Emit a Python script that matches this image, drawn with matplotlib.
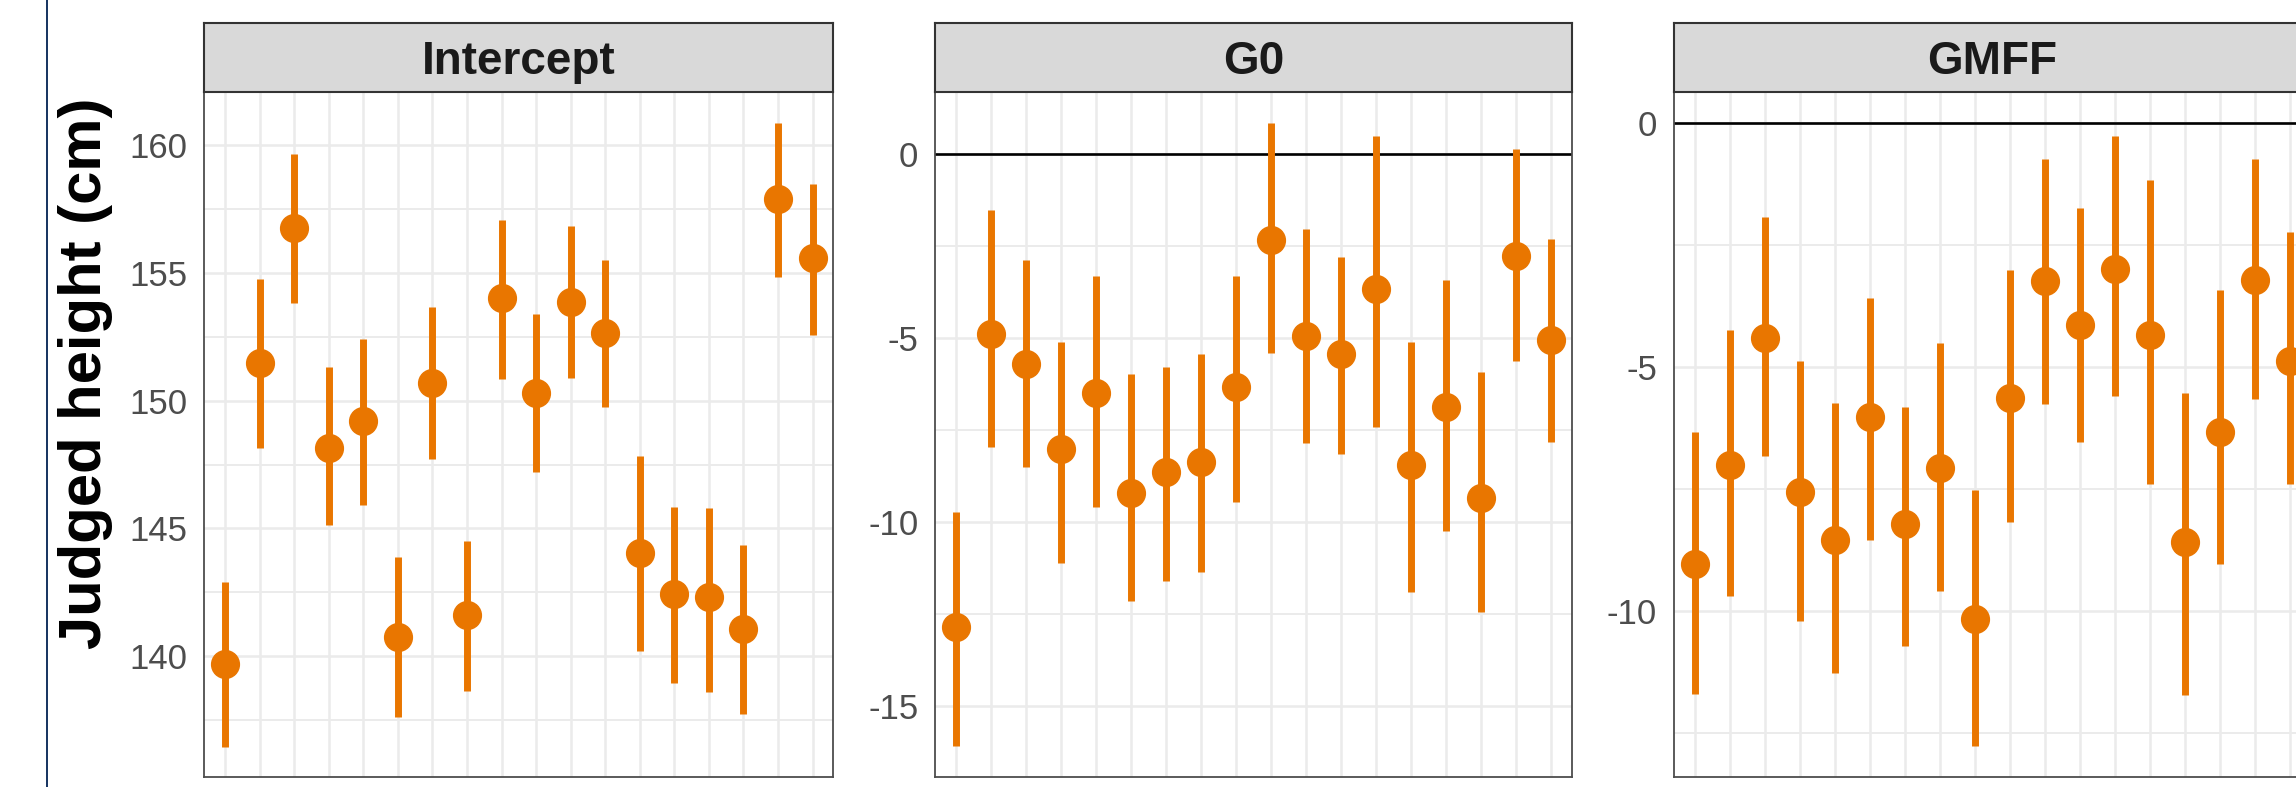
"""Per-item random effects with 95% intervals, faceted by term."""

import numpy as np
import matplotlib.pyplot as plt
from matplotlib.ticker import FixedLocator

plt.rcParams["font.family"] = ["Liberation Sans", "DejaVu Sans"]

# Facet titles
terms = ["Intercept", "G0", "GMFF"]
items = np.arange(1, 19)

# Estimates and interval bounds
intercept_est = [139.70, 151.48, 156.75, 148.17, 149.21, 140.75, 150.71, 141.61, 154.02,
                 150.31, 153.86, 152.66, 144.04, 142.42, 142.30, 141.08, 157.89, 155.59]
intercept_lo = [136.44, 148.15, 153.82, 145.12, 145.91, 137.60, 147.72, 138.64, 150.85,
                147.20, 150.91, 149.76, 140.20, 138.94, 138.60, 137.74, 154.84, 152.58]
intercept_hi = [142.91, 154.76, 159.65, 151.34, 152.42, 143.90, 153.66, 144.51, 157.09,
                153.41, 156.85, 155.51, 147.83, 145.85, 145.81, 144.37, 160.87, 158.50]

g0_est = [-12.85, -4.88, -5.69, -8.01, -6.48, -9.20, -8.63, -8.37, -6.33,
          -2.34, -4.94, -5.44, -3.66, -8.45, -6.86, -9.34, -2.76, -5.05]
g0_lo = [-16.11, -7.96, -8.50, -11.13, -9.60, -12.15, -11.61, -11.36, -9.45,
         -5.40, -7.86, -8.14, -7.41, -11.91, -10.24, -12.46, -5.61, -7.83]
g0_hi = [-9.73, -1.50, -2.88, -5.10, -3.30, -5.97, -5.78, -5.43, -3.30,
         0.86, -2.04, -2.78, 0.49, -5.09, -3.42, -5.92, 0.15, -2.31]

gmff_est = [-9.04, -7.00, -4.40, -7.55, -8.54, -6.03, -8.22, -7.06, -10.16,
            -5.64, -3.24, -4.13, -2.99, -4.34, -8.59, -6.32, -3.22, -4.88]
gmff_lo = [-11.70, -9.70, -6.83, -10.21, -11.26, -8.55, -10.71, -9.59, -12.77,
           -8.18, -5.75, -6.53, -5.60, -7.39, -11.72, -9.04, -5.66, -7.39]
gmff_hi = [-6.33, -4.24, -1.92, -4.88, -5.74, -3.58, -5.81, -4.51, -7.51,
           -3.01, -0.73, -1.73, -0.27, -1.16, -5.52, -3.41, -0.74, -2.22]

# y ranges and ticks per facet
ylims = [(135.27, 162.09), (-16.94, 1.70), (-13.40, 0.64)]
yticks = [[140, 145, 150, 155, 160], [-15, -10, -5, 0], [-10, -5, 0]]

ORANGE = "#E97600"
W, H = 2296, 787


def main() -> None:
    fig = plt.figure(figsize=(W / 100, H / 100), dpi=100)

    est = [intercept_est, g0_est, gmff_est]
    lo = [intercept_lo, g0_lo, gmff_lo]
    hi = [intercept_hi, g0_hi, gmff_hi]
    # panel left / width in pixels (third panel runs off the right edge)
    lefts = [204.3, 935.0, 1673.7]
    widths = [629.0, 637.3, 637.3]
    top, bottom, strip_top = 92.0, 777.0, 22.7

    for i, term in enumerate(terms):
        ax = fig.add_axes([lefts[i] / W, 1 - bottom / H, widths[i] / W, (bottom - top) / H])
        ax.set_xlim(0.4, 18.6)
        ax.set_ylim(*ylims[i])
        t = yticks[i]
        ax.yaxis.set_major_locator(FixedLocator(t))
        minor = [v + 2.5 for v in range(int(t[0]) - 5, int(t[-1]) + 5, 5)]
        ax.yaxis.set_minor_locator(FixedLocator(minor))
        ax.set_yticklabels([f"{v:g}" for v in t])
        ax.xaxis.set_major_locator(FixedLocator(items))
        ax.set_xticklabels([])
        ax.tick_params(axis="both", which="both", length=0)
        ax.tick_params(axis="y", labelsize=25, labelcolor="#4D4D4D", pad=12)
        ax.grid(True, which="major", color="#EBEBEB", linewidth=1.8)
        ax.grid(True, which="minor", axis="y", color="#EBEBEB", linewidth=1.4)
        ax.set_axisbelow(True)
        for s in ax.spines.values():
            s.set_color("#4D4D4D")
            s.set_linewidth(1.3)
        if i > 0:
            ax.axhline(0, color="black", linewidth=1.9, zorder=1.5)
        ax.vlines(items, lo[i], hi[i], color=ORANGE, linewidth=5, zorder=2)
        ax.plot(items, est[i], "o", color=ORANGE, markersize=20, zorder=3)

        # facet strip
        sax = fig.add_axes([lefts[i] / W, 1 - top / H, widths[i] / W, (top - strip_top) / H])
        sax.set_facecolor("#D9D9D9")
        sax.set_xticks([])
        sax.set_yticks([])
        for s in sax.spines.values():
            s.set_color("#333333")
            s.set_linewidth(1.5)
        sax.text(0.5, 0.255, term, transform=sax.transAxes, ha="center", va="baseline",
                 fontsize=33, fontweight="bold", color="#1A1A1A")

    fig.text(86 / W, 1 - 373 / H, "Judged height (cm)", rotation=90, ha="center",
             va="center", fontsize=43, fontweight="bold", color="black")
    # thin navy rule at the left edge
    fig.add_artist(plt.Line2D([46.7 / W, 46.7 / W], [0, 1], transform=fig.transFigure,
                              color="#14325F", linewidth=1.4))

    fig.savefig("out.png", dpi=100)


if __name__ == "__main__":
    main()
